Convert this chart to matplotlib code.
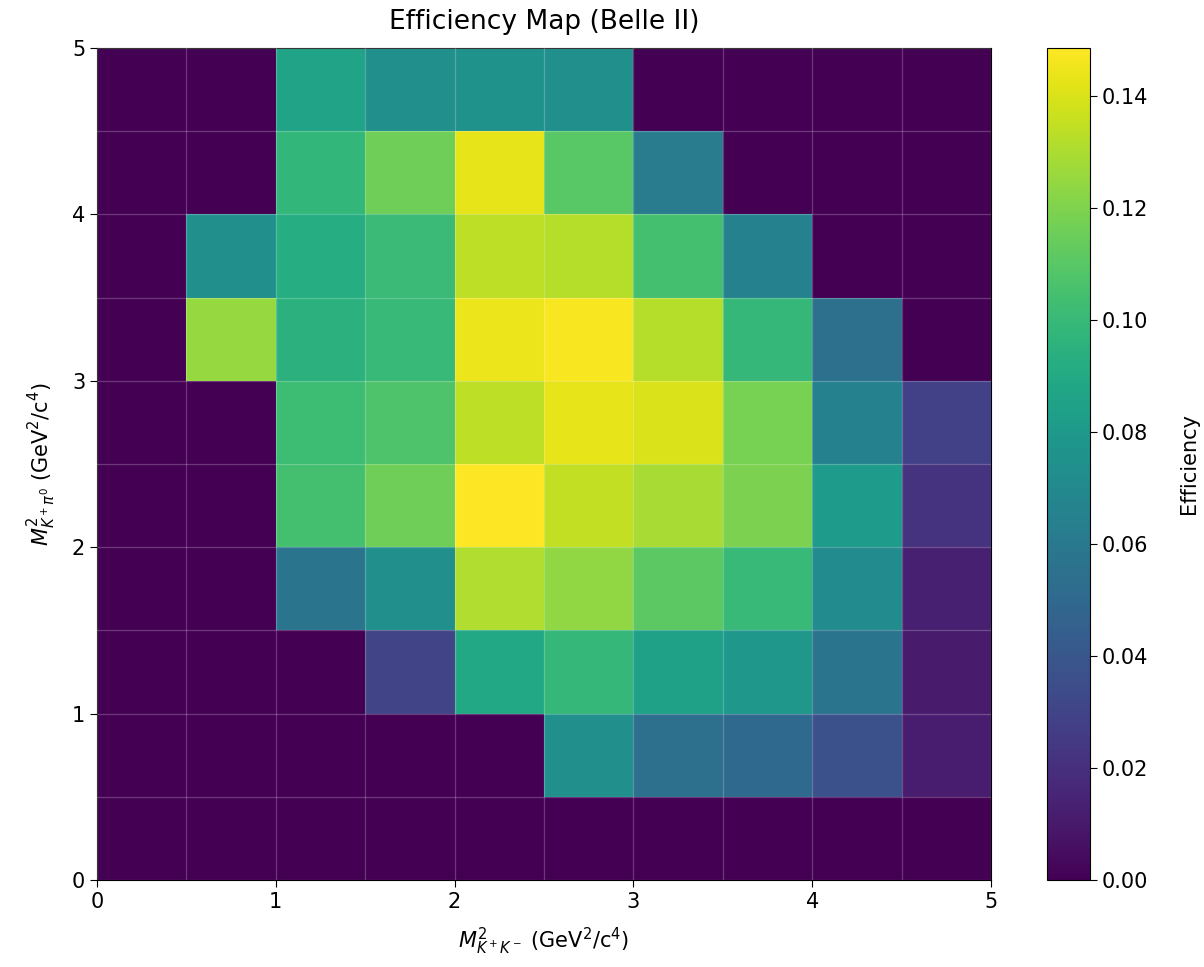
import numpy as np
import matplotlib
matplotlib.use("Agg")
import matplotlib.pyplot as plt
from matplotlib.ticker import MultipleLocator

# Bin edges of the Dalitz-plane efficiency map (GeV^2/c^4)
x_edges = np.arange(0.0, 5.01, 0.5)
y_edges = np.arange(0.0, 5.01, 0.5)

# Efficiency per bin; each list is one row in M^2(K+ pi0), from low to high,
# entries ordered in M^2(K+ K-) from low to high
eff_y0 = [0.0, 0.0, 0.0, 0.0, 0.0, 0.0, 0.0, 0.0, 0.0, 0.0]
eff_y1 = [0.0, 0.0, 0.0, 0.0, 0.0, 0.074, 0.054, 0.050, 0.037, 0.012]
eff_y2 = [0.0, 0.0, 0.0, 0.030, 0.089, 0.099, 0.085, 0.079, 0.057, 0.011]
eff_y3 = [0.0, 0.0, 0.057, 0.074, 0.131, 0.124, 0.111, 0.100, 0.071, 0.013]
eff_y4 = [0.0, 0.0, 0.104, 0.116, 0.1486, 0.135, 0.129, 0.119, 0.081, 0.022]
eff_y5 = [0.0, 0.0, 0.102, 0.107, 0.134, 0.143, 0.140, 0.118, 0.065, 0.028]
eff_y6 = [0.0, 0.125, 0.095, 0.100, 0.144, 0.147, 0.132, 0.099, 0.054, 0.0]
eff_y7 = [0.0, 0.074, 0.092, 0.101, 0.134, 0.132, 0.104, 0.065, 0.0, 0.0]
eff_y8 = [0.0, 0.0, 0.098, 0.116, 0.143, 0.110, 0.062, 0.0, 0.0, 0.0]
eff_y9 = [0.0, 0.0, 0.086, 0.074, 0.076, 0.074, 0.0, 0.0, 0.0, 0.0]

efficiency = np.array([eff_y0, eff_y1, eff_y2, eff_y3, eff_y4,
                       eff_y5, eff_y6, eff_y7, eff_y8, eff_y9])

W, H = 1204, 967
fig = plt.figure(figsize=(W / 100, H / 100), dpi=100)
ax = fig.add_axes([97 / W, 87 / H, (991 - 97) / W, (880 - 48) / H])
cax = fig.add_axes([1047 / W, 87 / H, 43 / W, (880 - 48) / H])

mesh = ax.pcolormesh(x_edges, y_edges, efficiency, cmap="viridis", shading="flat")

ax.set_xlim(0, 5)
ax.set_ylim(0, 5)
ax.xaxis.set_major_locator(MultipleLocator(1))
ax.yaxis.set_major_locator(MultipleLocator(1))
ax.xaxis.set_minor_locator(MultipleLocator(0.5))
ax.yaxis.set_minor_locator(MultipleLocator(0.5))
ax.tick_params(which="minor", length=0)
ax.tick_params(which="major", labelsize=15, length=5)
ax.grid(True, which="both", color="white", alpha=0.22, linewidth=0.9)
ax.set_axisbelow(False)

ax.set_xlabel(r"$M^2_{K^+K^-}$ (GeV$^2$/c$^4$)", fontsize=15, labelpad=10)
ax.set_ylabel(r"$M^2_{K^+\pi^0}$ (GeV$^2$/c$^4$)", fontsize=15, labelpad=10)
ax.set_title("Efficiency Map (Belle II)", fontsize=19, pad=14)

cb = fig.colorbar(mesh, cax=cax)
cb.set_label("Efficiency", fontsize=15, labelpad=22)
cb.ax.tick_params(labelsize=15, length=5)
cb.set_ticks([0.0, 0.02, 0.04, 0.06, 0.08, 0.10, 0.12, 0.14])
cb.ax.set_yticklabels(["0.00", "0.02", "0.04", "0.06", "0.08", "0.10", "0.12", "0.14"])

fig.savefig("out.png", dpi=100)
